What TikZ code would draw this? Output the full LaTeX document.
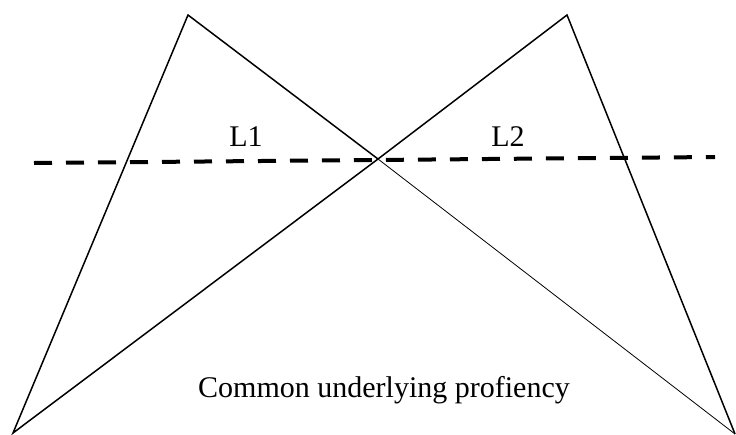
\documentclass[tikz,border=0pt]{standalone}
\usepackage{fontspec}
\setmainfont{Liberation Serif}
\begin{document}
\begin{tikzpicture}[x=1pt,y=-1pt,
  thick line/.style={line width=1.5pt,line join=miter},
  thin line/.style={line width=0.8pt},
  divider/.style={line width=4pt,dash pattern=on 18pt off 14pt},
  label/.style={font=\fontsize{30}{34}\selectfont,anchor=base,inner sep=0pt}]
\useasboundingbox (0,0) rectangle (736,434);
\coordinate (A1) at (188,15);
\coordinate (A2) at (567,15);
\coordinate (X) at (378,159);
\coordinate (BL) at (13,433);
\coordinate (BR) at (735,434);
\coordinate (D1) at (34,163);
\coordinate (D2) at (715,157);
\draw[thick line] (X) -- (A1) -- (BL) -- (X) -- (A2) -- (BR);
\draw[thin line] (X) -- (BR);
\draw[divider] (D1) -- (D2);
\node[label] (l1) at (246,146) {L1};
\node[label] (l2) at (508,146) {L2};
\node[label] (cup) at (384,397) {Common underlying profiency};
\end{tikzpicture}
\end{document}
